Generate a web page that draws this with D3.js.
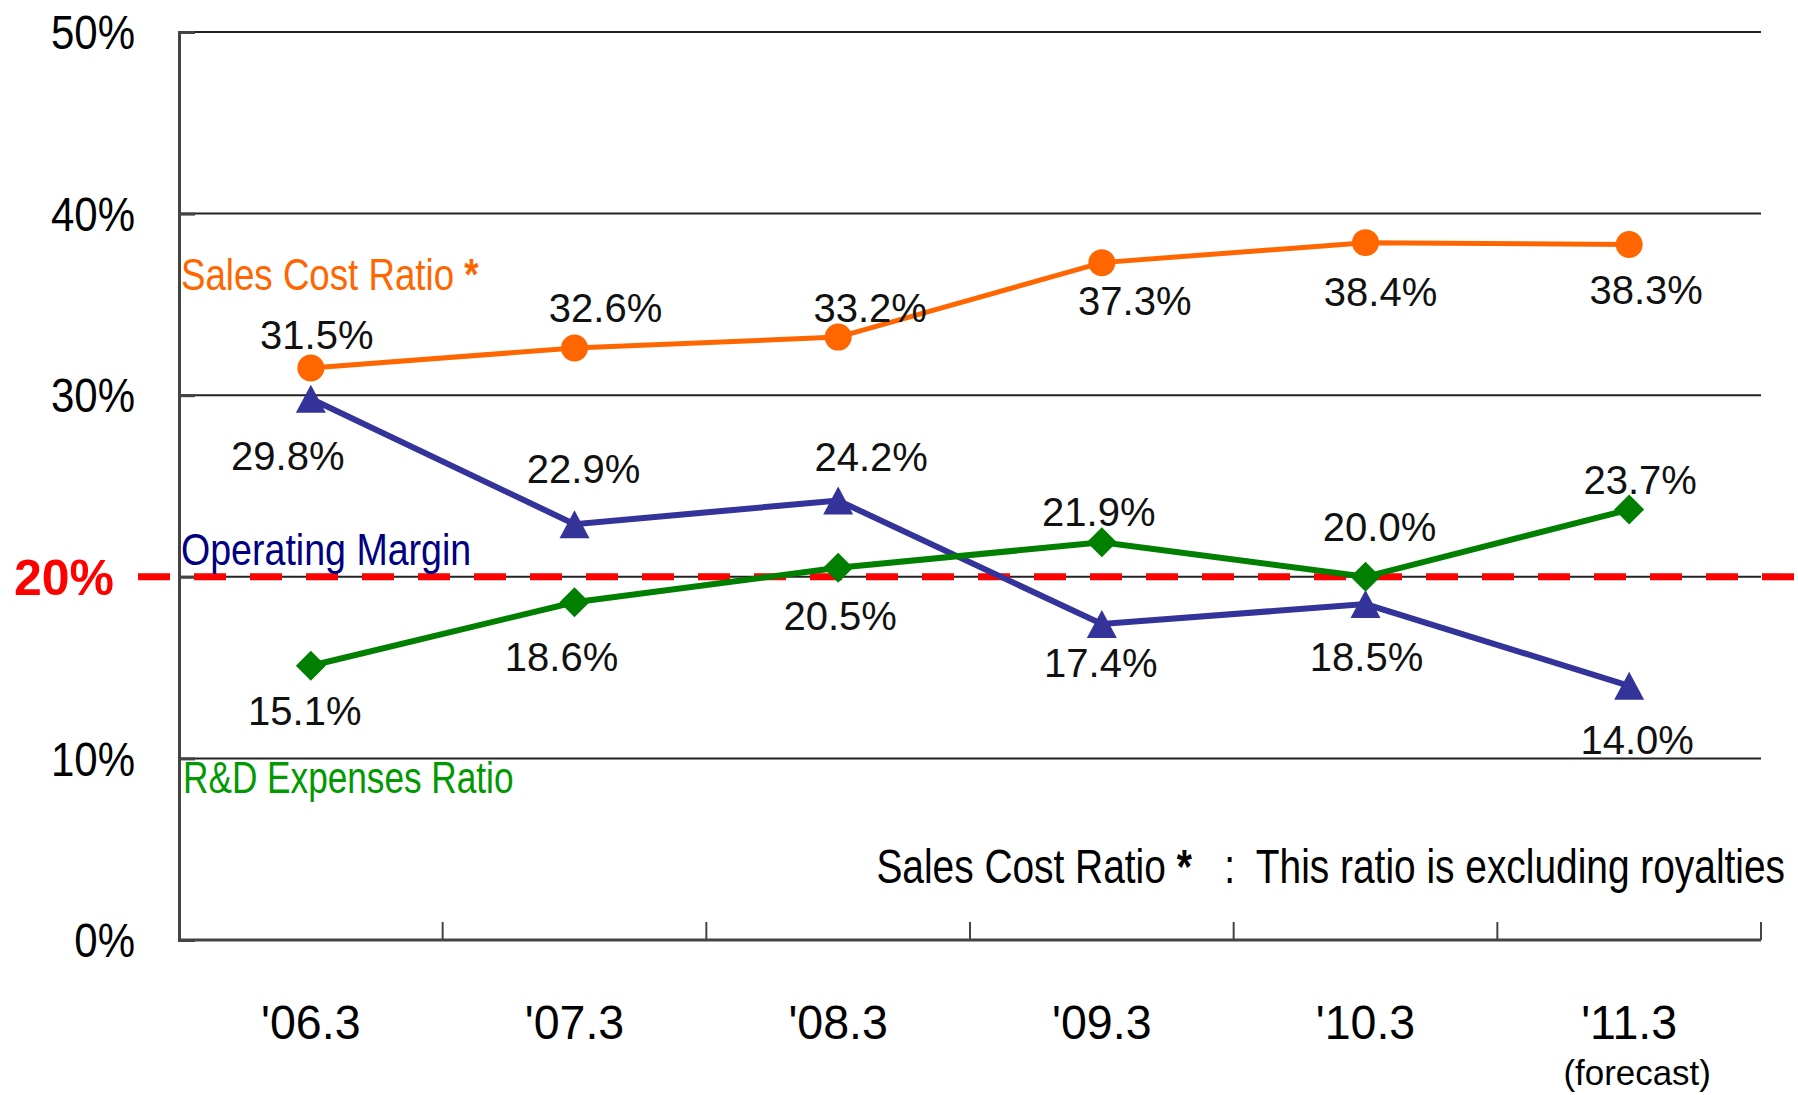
<!DOCTYPE html>
<html>
<head>
<meta charset="utf-8">
<script src="https://cdn.jsdelivr.net/npm/d3@7"></script>
<style>
  body { margin: 0; background: #fff; }
  svg { display: block; }
</style>
</head>
<body>
<div id="chart"></div>
<script>
// chart data
const categories = ["'06.3", "'07.3", "'08.3", "'09.3", "'10.3", "'11.3"];
const salesCost = [31.5, 32.6, 33.2, 37.3, 38.4, 38.3];
const opMargin = [29.8, 22.9, 24.2, 17.4, 18.5, 14.0];
const rdRatio = [15.1, 18.6, 20.5, 21.9, 20.0, 23.7];
const yTicks = [0, 10, 20, 30, 40, 50];
const targetLine = 20;

// label offsets from the point, px
const salesOff = [[6, -33], [31, -40], [32, -29], [33, 38], [15, 49], [17, 45]];
const opOff = [[-23, 57], [9, -56], [33, -44], [-1, 39], [1, 53], [8, 54]];
const rdOff = [[-6, 45], [-13, 54], [2, 48], [-3, -31], [14, -50], [11, -30]];

const FONT = "Liberation Sans, Arial, sans-serif";
const width = 1798;
const height = 1095;
const margin = {top: 32, bottom: 155, left: 179, right: 37};

const svg = d3.select("#chart")
    .append("svg")
    .attr("width", width)
    .attr("height", height);

const x = d3.scaleBand()
    .domain(categories)
    .range([margin.left, width - margin.right])
    .padding(0);

const y = d3.scaleLinear()
    .domain([0, 50])
    .range([height - margin.bottom, margin.top]);

// squeezed text, the original uses a condensed face
function narrowText(parent, px, py, size, sx, anchor, color) {
    return parent.append("g")
        .attr("transform", `translate(${px},${py}) scale(${sx},1)`)
        .append("text")
        .attr("text-anchor", anchor)
        .attr("font-family", FONT)
        .attr("font-size", size)
        .attr("fill", color);
}

// grid
svg.append("g")
    .selectAll("line")
    .data(yTicks.filter(d => d > 0))
    .join("line")
        .attr("x1", margin.left)
        .attr("x2", width - margin.right)
        .attr("y1", d => y(d))
        .attr("y2", d => y(d))
        .attr("stroke", "#222")
        .attr("stroke-width", 2);

// y axis
svg.append("g")
    .attr("transform", `translate(${margin.left},0)`)
    .call(d3.axisLeft(y).tickValues(yTicks).tickSize(-16).tickFormat(""))
    .call(g => g.select(".domain").attr("stroke", "#444").attr("stroke-width", 3))
    .call(g => g.selectAll(".tick line").attr("stroke", "#444").attr("stroke-width", 3));

yTicks.filter(d => d !== targetLine).forEach(d => {
    narrowText(svg, margin.left - 44, y(d), 48, 0.875, "end", "#000")
        .attr("dy", "0.36em")
        .text(d + "%");
});

// x axis
svg.append("line")
    .attr("x1", margin.left)
    .attr("x2", width - margin.right)
    .attr("y1", y(0))
    .attr("y2", y(0))
    .attr("stroke", "#444")
    .attr("stroke-width", 3);

const bounds = categories.map(c => x(c)).concat([x.range()[1]]);
svg.append("g")
    .selectAll("line")
    .data(bounds)
    .join("line")
        .attr("x1", d => d)
        .attr("x2", d => d)
        .attr("y1", y(0))
        .attr("y2", y(0) - 18)
        .attr("stroke", "#444")
        .attr("stroke-width", 2);

const cx = i => x(categories[i]) + x.bandwidth() / 2;

categories.forEach((c, i) => {
    narrowText(svg, cx(i), 1039, 48, 0.97, "middle", "#000").text(c);
});
narrowText(svg, cx(5) + 8, 1085, 36, 0.97, "middle", "#000").text("(forecast)");

// 20% target
svg.append("line")
    .attr("x1", 138)
    .attr("x2", width)
    .attr("y1", y(targetLine))
    .attr("y2", y(targetLine))
    .attr("stroke", "#FF0000")
    .attr("stroke-width", 7)
    .attr("stroke-dasharray", "32 24");

svg.append("text")
    .attr("x", 14)
    .attr("y", y(targetLine))
    .attr("dy", "0.36em")
    .attr("font-family", FONT)
    .attr("font-weight", "bold")
    .attr("font-size", 50)
    .attr("fill", "#FF0000")
    .text(targetLine + "%");

function drawSeries(values, color, shape, offsets, lw) {
    const line = d3.line()
        .x((d, i) => cx(i))
        .y(d => y(d));
    svg.append("path")
        .datum(values)
        .attr("fill", "none")
        .attr("stroke", color)
        .attr("stroke-width", lw)
        .attr("d", line);

    svg.append("g")
        .selectAll("path")
        .data(values)
        .join("path")
            .attr("transform", (d, i) => `translate(${cx(i)},${y(d)})`)
            .attr("fill", color)
            .attr("d", shape);

    svg.append("g")
        .selectAll("text")
        .data(values)
        .join("text")
            .attr("x", (d, i) => cx(i) + offsets[i][0])
            .attr("y", (d, i) => y(d) + offsets[i][1])
            .attr("dy", "0.36em")
            .attr("text-anchor", "middle")
            .attr("font-family", FONT)
            .attr("font-size", 40)
            .attr("fill", "#111")
            .text(d => d.toFixed(1) + "%");
}

const circle = "M-13.5,0a13.5,13.5 0 1,0 27,0a13.5,13.5 0 1,0 -27,0Z";
const triangle = "M0,-14L15,14L-15,14Z";
const diamond = "M0,-15L15,0L0,15L-15,0Z";

drawSeries(opMargin, "#333399", triangle, opOff, 6);
drawSeries(rdRatio, "#007F00", diamond, rdOff, 6);
drawSeries(salesCost, "#FF6600", circle, salesOff, 5);

// series names
const salesName = narrowText(svg, 181, 290, 45, 0.815, "start", "#FF6600");
salesName.append("tspan").text("Sales Cost Ratio ");
salesName.append("tspan").attr("font-weight", "bold").text("*");

narrowText(svg, 181, 565, 45, 0.835, "start", "#000080").text("Operating Margin");
narrowText(svg, 183, 793, 44, 0.8, "start", "#009900").text("R&D Expenses Ratio");

// footnote
const note = narrowText(svg, 1785, 883, 48, 0.81, "end", "#000")
    .style("white-space", "pre");
note.append("tspan").text("Sales Cost Ratio ");
note.append("tspan").attr("font-weight", "bold").text("*");
note.append("tspan").text("   :  This ratio is excluding royalties");
</script>
</body>
</html>
